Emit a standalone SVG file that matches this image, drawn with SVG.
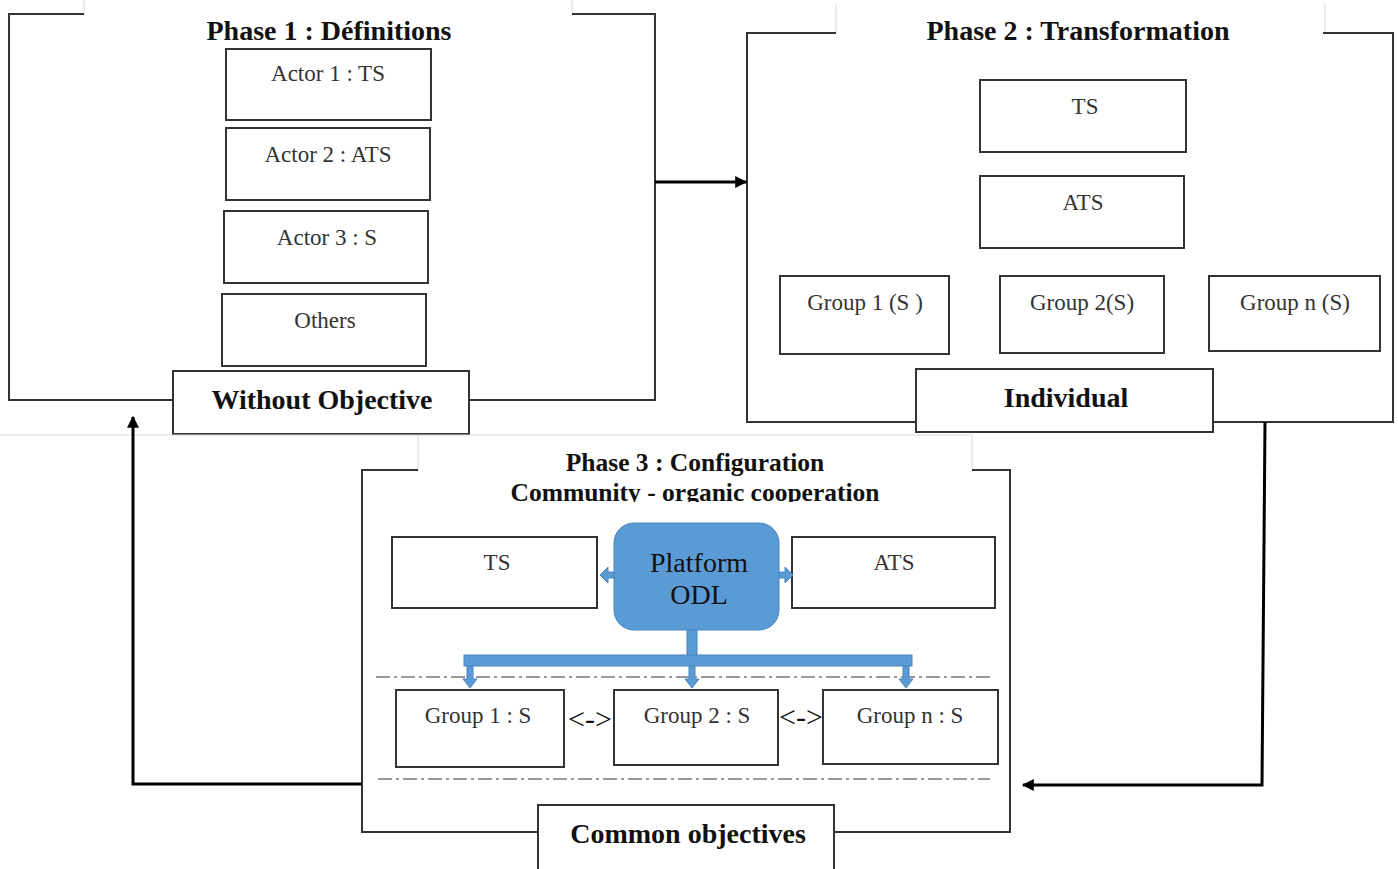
<svg xmlns="http://www.w3.org/2000/svg" width="1398" height="869" viewBox="0 0 1398 869">
<defs>
<style>
.frame{fill:none;stroke:#333;stroke-width:2}
.box{fill:#fff;stroke:#333;stroke-width:2}
.faint{fill:none;stroke:#d8d8d8;stroke-width:1}
.t{font-family:"Liberation Serif",serif;font-size:23px;fill:#333;text-anchor:middle}
.tb{font-family:"Liberation Serif",serif;font-size:28px;font-weight:bold;fill:#111;text-anchor:middle}
.conn{fill:none;stroke:#000;stroke-width:3}
.dd{fill:none;stroke:#777;stroke-width:1.5;stroke-dasharray:14 4 3 4}
.blue{fill:#5b9bd5;stroke:#4a86c0;stroke-width:1}
</style>
<marker id="ah" viewBox="0 0 10 10" refX="9" refY="5" markerWidth="4.5" markerHeight="4" orient="auto" markerUnits="strokeWidth">
<path d="M0,0 L10,5 L0,10 z" fill="#000"/>
</marker>
<clipPath id="clip3"><rect x="362" y="440" width="648" height="62"/></clipPath>
</defs>

<g id="phase1">
<path class="faint" d="M84,0 V14 M572,0 V14"/>
<path class="frame" d="M84,14 H9 V400 H173 M469,400 H655 V14 H572"/>
<text class="tb" x="329" y="40">Phase 1 : Définitions</text>
<g id="actor1"><rect class="box" x="226" y="49" width="205" height="71"/><text class="t" x="328" y="81">Actor 1 : TS</text></g>
<g id="actor2"><rect class="box" x="226" y="128" width="204" height="72"/><text class="t" x="328" y="162">Actor 2 : ATS</text></g>
<g id="actor3"><rect class="box" x="224" y="211" width="204" height="72"/><text class="t" x="327" y="245">Actor 3 : S</text></g>
<g id="others"><rect class="box" x="222" y="294" width="204" height="72"/><text class="t" x="325" y="328">Others</text></g>
<g id="without"><rect class="box" x="173" y="371" width="296" height="63"/><text class="tb" x="322" y="409">Without Objective</text></g>
</g>

<g id="phase2">
<path class="faint" d="M836,4 V33 M1325,4 V33"/>
<path class="frame" d="M836,33 H747 V422 H916 M1213,422 H1393 V33 H1323"/>
<text class="tb" x="1078" y="40">Phase 2 : Transformation</text>
<g id="ts2"><rect class="box" x="980" y="80" width="206" height="72"/><text class="t" x="1085" y="114">TS</text></g>
<g id="ats2"><rect class="box" x="980" y="176" width="204" height="72"/><text class="t" x="1083" y="210">ATS</text></g>
<g id="g1p2"><rect class="box" x="780" y="276" width="169" height="78"/><text class="t" x="865" y="310">Group 1 (S )</text></g>
<g id="g2p2"><rect class="box" x="1000" y="276" width="164" height="77"/><text class="t" x="1082" y="310">Group 2(S)</text></g>
<g id="gnp2"><rect class="box" x="1209" y="276" width="171" height="75"/><text class="t" x="1295" y="310">Group n (S)</text></g>
<g id="individual"><rect class="box" x="916" y="369" width="297" height="63"/><text class="tb" x="1066" y="407">Individual</text></g>
</g>

<g id="phase3">
<path class="faint" d="M0,435 H418 V470 M418,435 H972 V470"/>
<path class="frame" d="M418,470 H362 V832 H538 M834,832 H1010 V470 H972"/>
<text class="tb" x="695" y="471" style="font-size:25.5px">Phase 3 : Configuration</text>
<text class="tb" x="695" y="501" style="font-size:25.5px" clip-path="url(#clip3)">Community - organic cooperation</text>
<g id="ts3"><rect class="box" x="392" y="537" width="205" height="71"/><text class="t" x="497" y="570">TS</text></g>
<g id="ats3"><rect class="box" x="792" y="537" width="203" height="71"/><text class="t" x="894" y="570">ATS</text></g>
<g id="platform">
<rect class="blue" x="614" y="523" width="165" height="107" rx="20" ry="20"/>
<text class="t" x="699" y="572" style="font-size:28px;fill:#111">Platform</text>
<text class="t" x="699" y="604" style="font-size:28px;fill:#111">ODL</text>
</g>
<g id="dashes">
<path class="dd" d="M376,677 H990"/>
<path class="dd" d="M378,779 H990"/>
</g>
<g id="grp1"><rect class="box" x="396" y="690" width="168" height="77"/><text class="t" x="478" y="723">Group 1 : S</text></g>
<g id="grp2"><rect class="box" x="614" y="690" width="164" height="75"/><text class="t" x="697" y="723">Group 2 : S</text></g>
<g id="grpn"><rect class="box" x="823" y="690" width="175" height="74"/><text class="t" x="910" y="723">Group n : S</text></g>
<text class="t" x="590" y="729" style="font-size:30px;fill:#111">&lt;-&gt;</text>
<text class="t" x="801" y="727" style="font-size:30px;fill:#111">&lt;-&gt;</text>
<g id="common"><rect class="box" x="538" y="805" width="296" height="70"/><text class="tb" x="688" y="843">Common objectives</text></g>
</g>

<g id="connectors">
<path class="conn" d="M655,182 H746" marker-end="url(#ah)"/>
<path class="conn" d="M1265,422 L1262,785 H1023" marker-end="url(#ah)"/>
<path class="conn" d="M362,784 H133 V417" marker-end="url(#ah)"/>
<g id="blue-links">
<polygon class="blue" points="614,572 608,572 608,567 600,575 608,583 608,578 614,578"/>
<polygon class="blue" points="779,572 785,572 785,567 793,575 785,583 785,578 779,578"/>
<rect class="blue" x="687" y="630" width="10" height="27"/>
<rect class="blue" x="464" y="655" width="448" height="11"/>
<polygon class="blue" points="467,666 473,666 473,679 477,679 470,688 463,679 467,679"/>
<polygon class="blue" points="689,666 695,666 695,679 699,679 692,688 685,679 689,679"/>
<polygon class="blue" points="903,666 909,666 909,679 913,679 906,688 899,679 903,679"/>
</g>
</g>
</svg>
